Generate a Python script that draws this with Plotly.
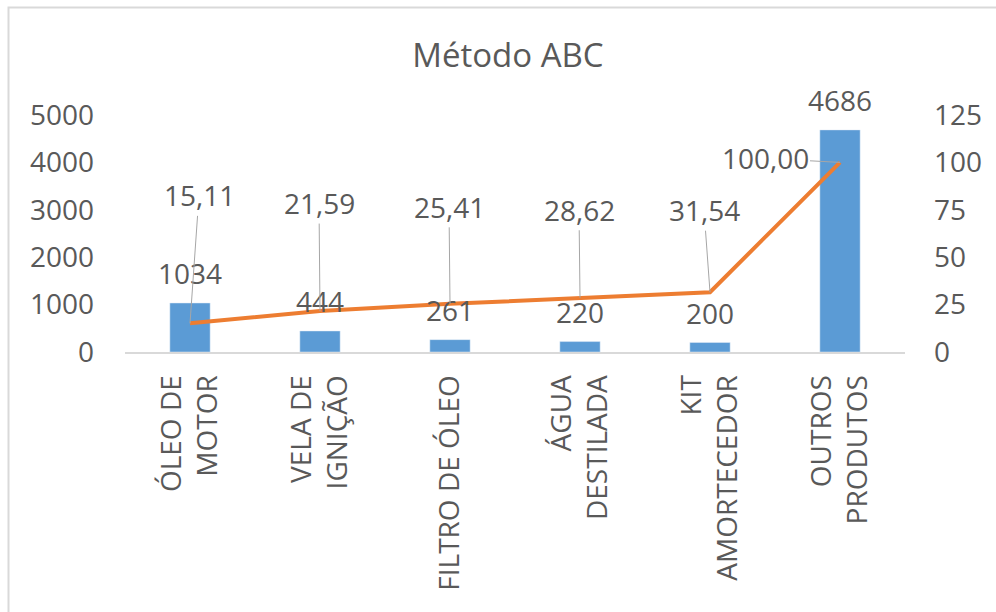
import plotly.graph_objects as go

categories = ["ÓLEO DE<br>MOTOR", "VELA DE<br>IGNIÇÃO", "FILTRO DE ÓLEO",
              "ÁGUA<br>DESTILADA", "KIT<br>AMORTECEDOR", "OUTROS<br>PRODUTOS"]
quantities = [1034, 444, 261, 220, 200, 4686]
cumulative_pct = [15.11, 21.59, 25.41, 28.62, 31.54, 100.00]
pct_labels = ["15,11", "21,59", "25,41", "28,62", "31,54", "100,00"]
left_ticks = [0, 1000, 2000, 3000, 4000, 5000]
right_ticks = [0, 25, 50, 75, 100, 125]

# label offsets (pixels) for the percentage labels relative to their points
pct_ax = [9, -1, -1, -1, -6, -75]
pct_ay = [-128, -108, -97, -88, -82, -4]

TXT = "#595959"
FONT = "Open Sans"

fig = go.Figure()
fig.add_trace(go.Bar(x=categories, y=quantities, marker_color="#5B9BD5",
                     width=0.31, yaxis="y", showlegend=False, hoverinfo="skip"))
fig.add_trace(go.Scatter(x=categories, y=cumulative_pct, mode="lines",
                         line=dict(color="#ED7D31", width=4), yaxis="y2",
                         showlegend=False, hoverinfo="skip"))

annotations = []
for c, q in zip(categories, quantities):
    annotations.append(dict(x=c, y=q, xref="x", yref="y", text=str(q),
                            showarrow=False, yanchor="middle", yshift=30,
                            font=dict(size=28, color=TXT, family=FONT)))
for c, p, t, ax, ay in zip(categories, cumulative_pct, pct_labels, pct_ax, pct_ay):
    annotations.append(dict(x=c, y=p, xref="x", yref="y2", text=t,
                            showarrow=True, arrowhead=0, arrowwidth=1,
                            arrowcolor="#A6A6A6", ax=ax, ay=ay,
                            font=dict(size=28, color=TXT, family=FONT)))
fig.update_layout(annotations=annotations)

fig.update_layout(
    width=996, height=612,
    margin=dict(l=125, r=91, t=115, b=260),
    paper_bgcolor="white", plot_bgcolor="white",
    font=dict(family=FONT, color=TXT, size=28),
    title=dict(text="Método ABC", x=0.51, xanchor="center", y=0.91,
               yanchor="middle", font=dict(size=33, color=TXT, family=FONT)),
    xaxis=dict(type="category", tickangle=-90, showgrid=False, showline=True,
               linecolor="#D9D9D9", linewidth=2, ticks="", ticklabelstandoff=10,
               tickfont=dict(size=28, color=TXT, family=FONT)),
    yaxis=dict(range=[0, 5000], tickvals=left_ticks, showgrid=False,
               showline=False, zeroline=False, ticks="", ticklabelstandoff=30,
               tickfont=dict(size=28, color=TXT, family=FONT)),
    yaxis2=dict(range=[0, 125], tickvals=right_ticks, overlaying="y", side="right",
                showgrid=False, showline=False, zeroline=False, ticks="",
                ticklabelstandoff=28,
                tickfont=dict(size=28, color=TXT, family=FONT)),
    shapes=[dict(type="rect", xref="paper", yref="paper",
                 x0=(8.5 - 125) / 780, x1=(1010 - 125) / 780,
                 y0=(352 - 625) / 237, y1=(352 - 7.5) / 237,
                 line=dict(color="#D9D9D9", width=2), fillcolor="rgba(0,0,0,0)",
                 layer="below")],
)

fig.write_html("out.html")
